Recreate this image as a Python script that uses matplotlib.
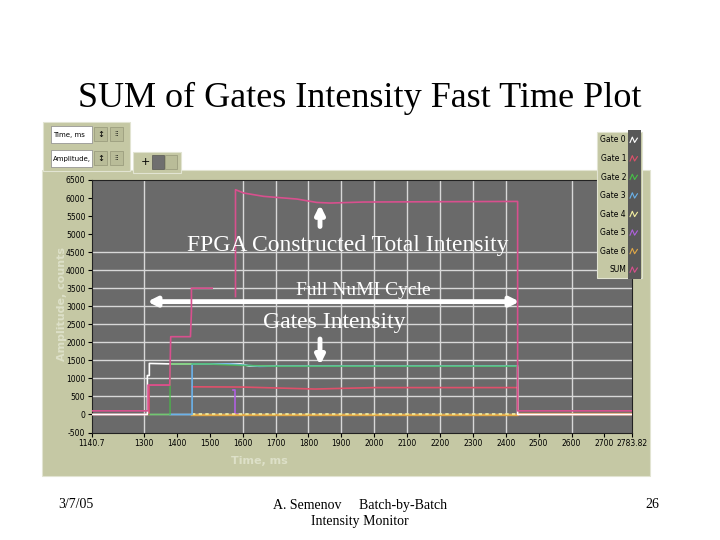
"""SUM of Gates Intensity – fast time plot (LabVIEW screen capture on a slide)."""
import matplotlib
matplotlib.use("Agg")
import matplotlib.pyplot as plt
import numpy as np
from matplotlib.patches import Rectangle
from matplotlib.lines import Line2D
from matplotlib.legend_handler import HandlerBase

plt.rcParams["axes.unicode_minus"] = False
nan = np.nan

# ---- data ----
T0, T1 = 1140.7, 2783.82
x_ticks = [T0, 1300, 1400, 1500, 1600, 1700, 1800, 1900, 2000, 2100, 2200,
           2300, 2400, 2500, 2600, 2700, T1]
x_tick_labels = ["1140.7", "1300", "1400", "1500", "1600", "1700", "1800",
                 "1900", "2000", "2100", "2200", "2300", "2400", "2500",
                 "2600", "2700", "2783.82"]
x_grid = [1300, 1600, 1700, 1800, 1900, 2000, 2100, 2200, 2300, 2400, 2600]
y_ticks = list(range(-500, 7000, 500))
y_grid = list(range(0, 5000, 500))

sum_t = [T0, 1312, 1312, 1378, 1381, 1441, 1444, 1444, 1507, nan,
         1578, 1578, 1603, 1664, 1765, 1825, 1866, 1966, 2169, 2436, 2436, T1]
sum_v = [100, 100, 814, 814, 2156, 2156, 2850, 3500, 3500, nan,
         3267, 6231, 6139, 6046, 5972, 5878, 5861, 5889, 5897, 5906, 100, 100]

g0_t = [T0, 1310, 1310, 1316, 1316, 1390, 1595, 1620, 2436, 2436, T1]
g0_v = [0, 0, 1080, 1080, 1415, 1400, 1400, 1340, 1340, 0, 0]

g1_t = [T0, 1315, 1315, 1378, nan, 1446, 1600, 1820, 2000, 2436, 2436, T1]
g1_v = [0, 0, 814, 814, nan, 767, 760, 705, 745, 745, 0, 0]

g2_t = [1315, 1379, 1379, 1500, 1560, 1645, 1700, 2436]
g2_v = [0, 0, 1400, 1400, 1370, 1350, 1338, 1338]

g3_t = [1379, 1446, 1446, 1560, 1650, 1700, 2436]
g3_v = [0, 0, 1400, 1400, 1335, 1342, 1342]

g4_t = [1446, 2436]
g4_v = [0, 0]

g5_t = [1571, 1578, 1578, 1590]
g5_v = [690, 690, 0, 0]

g6_t = [1446, 2436, 2436, T1]
g6_v = [-20, -20, 0, 0]

names = ["Gate 0", "Gate 1", "Gate 2", "Gate 3", "Gate 4", "Gate 5",
         "Gate 6", "SUM"]
colors = ["#ffffff", "#e0506a", "#46c046", "#6ab2ea", "#f2eea0", "#b060e0",
          "#e0a848", "#d8508e"]

KHAKI = "#c5c8a4"
PLOT_BG = "#6a6a6a"
GRID = "#d8d8d8"
W, H = 720, 540


def fbox(x0, y0, x1, y1):
    """Pixel box of the slide (top-down) -> figure fraction rect."""
    return [x0 / W, 1 - y1 / H, (x1 - x0) / W, (y1 - y0) / H]


def rect(x0, y0, x1, y1, fc, ec="none", lw=0.0, z=-5):
    l, b, w, h = fbox(x0, y0, x1, y1)
    fig.add_artist(Rectangle((l, b), w, h, transform=fig.transFigure,
                             facecolor=fc, edgecolor=ec, lw=lw, zorder=z))


class Swatch(HandlerBase):
    def create_artists(self, legend, orig_handle, xdescent, ydescent,
                       width, height, fontsize, trans):
        bg = Rectangle((-xdescent - 1, -ydescent - 5), width + 3, height + 10,
                       facecolor="#585858", edgecolor="none", transform=trans)
        xs = np.array([0.1, 0.35, 0.6, 0.9]) * width - xdescent
        ys = np.array([0.0, 1.0, 0.0, 0.8]) * height - ydescent
        zz = Line2D(xs, ys, color=orig_handle.get_color(), lw=0.8,
                    transform=trans)
        return [bg, zz]


fig = plt.figure(figsize=(7.2, 5.4), dpi=100)
fig.patch.set_facecolor("white")

# panels of the LabVIEW front panel
rect(42, 170, 650, 476, KHAKI, ec="#e2e4d2", lw=0.8)
rect(43, 122, 130, 171, KHAKI, ec="#e2e4d2", lw=0.8)
rect(133, 152, 181, 173, KHAKI, ec="#e2e4d2", lw=0.8)
rect(51, 126, 92, 143, "white", ec="#888", lw=0.5, z=-4)
rect(51, 150, 92, 167, "white", ec="#888", lw=0.5, z=-4)
for yy in (127, 151):
    rect(94, yy, 107, yy + 14, "#b9bc98", ec="#8a8c70", lw=0.4, z=-4)
    rect(110, yy, 123, yy + 14, "#b9bc98", ec="#8a8c70", lw=0.4, z=-4)
rect(152, 155, 164, 169, "#6f6f6f", ec="#444", lw=0.4, z=-4)
rect(165, 155, 177, 169, "#b9bc98", ec="#8a8c70", lw=0.4, z=-4)
fig.text(53 / W, 1 - 135 / H, "Time, ms", fontsize=5, va="center")
fig.text(53 / W, 1 - 159 / H, "Amplitude,", fontsize=5, va="center")
fig.text(145 / W, 1 - 162 / H, "+", fontsize=8, ha="center", va="center")
for xx, yy in ((100, 134), (100, 158)):
    fig.text(xx / W, 1 - yy / H, "$\\updownarrow$", fontsize=6, ha="center", va="center")
    fig.text((xx + 16) / W, 1 - yy / H, "⁝⁝", fontsize=5, ha="center", va="center")

ax = fig.add_axes(fbox(91.7, 180, 632, 432.5))
ax.set_facecolor(PLOT_BG)
for gx in x_grid:
    ax.axvline(gx, color=GRID, lw=1.0, zorder=0.5)
for gy in y_grid:
    ax.axhline(gy, color=GRID, lw=1.0, zorder=0.5)

series = [(g0_t, g0_v), (g1_t, g1_v), (g2_t, g2_v), (g3_t, g3_v),
          (g4_t, g4_v), (g5_t, g5_v), (g6_t, g6_v), (sum_t, sum_v)]
order = [5, 6, 4, 1, 0, 3, 2, 7]
lines = {}
for z, k in enumerate(order):
    t, v = series[k]
    ls = (0, (2, 2)) if k == 4 else "-"
    alpha = 0.7 if k == 2 else 1.0
    lw = 1.7 if k == 6 else 1.2
    lines[k], = ax.plot(t, v, color=colors[k], lw=lw, ls=ls, alpha=alpha,
                        zorder=2 + z)

ax.set_xlim(T0, T1)
ax.set_ylim(-500, 6500)
ax.set_xticks(x_ticks, x_tick_labels)
ax.set_yticks(y_ticks)
ax.tick_params(direction="out", length=3, width=0.8, labelsize=5.5, pad=1.5,
               colors="black")
for side in ("left", "bottom", "top", "right"):
    ax.spines[side].set_color("#222222")
    ax.spines[side].set_linewidth(0.8)

ax.set_ylabel("Amplitude, counts", color="#dde0c8", fontsize=8,
              fontweight="bold")
ax.yaxis.set_label_coords(-0.045, 0.51)
ax.set_xlabel("Time, ms", color="#dde0c8", fontsize=8, fontweight="bold")
ax.xaxis.set_label_coords(0.31, -0.093)

# annotations on the plot
serif = "Liberation Serif"
arrow = dict(arrowstyle="-|>", color="white", lw=3.5, mutation_scale=13,
             shrinkA=0, shrinkB=0)
ax.annotate("", xy=(1835, 5814), xytext=(1835, 5211), arrowprops=arrow)
ax.annotate("", xy=(1835, 1369), xytext=(1835, 2092), arrowprops=arrow)
ax.annotate("", xy=(1310, 3128), xytext=(2442, 3128),
            arrowprops=dict(arrow, arrowstyle="<|-|>"))
ax.text(1919, 4675, "FPGA Constructed Total Intensity", color="white",
        fontsize=17, family=serif, ha="center", va="center", zorder=20)
ax.text(1967, 3450, "Full NuMI Cycle", color="white", fontsize=14,
        family=serif, ha="center", va="center", zorder=20)
ax.text(1878, 2536, "Gates Intensity", color="white", fontsize=17,
        family=serif, ha="center", va="center", zorder=20)

leg = fig.legend([lines[k] for k in range(8)], names,
                 handler_map={Line2D: Swatch()}, loc="upper left",
                 bbox_to_anchor=(597 / W, 1 - 132 / H),
                 bbox_transform=fig.transFigure, borderaxespad=0,
                 fancybox=False, facecolor=KHAKI, edgecolor="#e2e4d2",
                 framealpha=1, fontsize=5.5, handlelength=1.2,
                 handleheight=0.7, handletextpad=0.4, labelspacing=1.25,
                 borderpad=0.45, markerfirst=False)
leg.get_frame().set_linewidth(0.8)

# slide texts
fig.text(0.5, 1 - 98 / H, "SUM of Gates Intensity Fast Time Plot",
         family=serif, fontsize=26, ha="center", va="center")
fig.text(58 / W, 1 - 505 / H, "3/7/05", family=serif, fontsize=10,
         va="center")
fig.text(360 / W, 1 - 505 / H, "A. Semenov     Batch-by-Batch",
         family=serif, fontsize=10, ha="center", va="center")
fig.text(360 / W, 1 - 521 / H, "Intensity Monitor", family=serif,
         fontsize=10, ha="center", va="center")
fig.text(652 / W, 1 - 505 / H, "26", family=serif, fontsize=10,
         ha="center", va="center")

fig.savefig("out.png", dpi=100)
plt.close(fig)
